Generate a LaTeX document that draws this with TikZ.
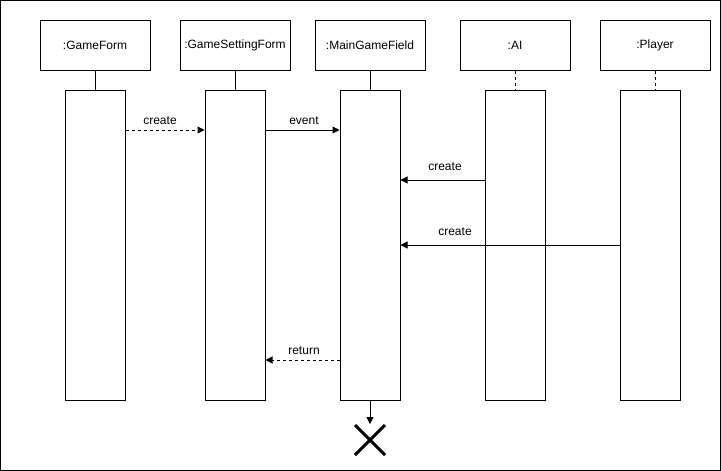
\documentclass[tikz,border=0pt]{standalone}
\usepackage{fontspec}
\setmainfont{Liberation Sans}
\usetikzlibrary{arrows.meta}
\begin{document}
\begin{tikzpicture}[x=1pt,y=-1pt,line width=1pt,
  head/.style={draw,minimum width=110pt,minimum height=50pt,inner sep=0pt,font=\fontsize{12}{14}\selectfont},
  act/.style={draw,fill=white,minimum width=60pt,minimum height=310pt,inner sep=0pt,anchor=north},
  msg/.style={-{Triangle[length=7pt,width=7pt]}},
  lbl/.style={font=\fontsize{12}{14}\selectfont,inner sep=0pt}]
\useasboundingbox (0,0) rectangle (721,471);
\draw (0.5,0.5) rectangle (720.5,470.5);
% headers
\node[head] (gf) at (95,45) {:GameForm};
\node[head] (gs) at (235,45) {:GameSettingForm};
\node[head] (mg) at (370,45) {:MainGameField};
\node[head] (ai) at (515,45) {:AI};
\node[head] (pl) at (655,45) {:Player};
% activations
\node[act] (gfA) at (95,90) {};
\node[act] (gsA) at (235,90) {};
\node[act] (mgA) at (370,90) {};
\node[act] (aiA) at (515,90) {};
\node[act] (plA) at (650,90) {};
% lifelines
\draw (gf.south) -- (gfA.north);
\draw (gs.south) -- (gsA.north);
\draw (mg.south) -- (mgA.north);
\draw[dash pattern=on 3pt off 3pt] (ai.south) -- (aiA.north);
\draw[dash pattern=on 3pt off 3pt] (pl.south) -- (pl.south |- plA.north);
% message rows
\coordinate (r1) at (0,130);
\coordinate (r2) at (0,180);
\coordinate (r3) at (0,245);
\coordinate (r4) at (0,360);
\draw[msg,dash pattern=on 3pt off 3pt] (gfA.east |- r1) -- (gsA.west |- r1);
\node[lbl] (l1) at (160,121) {create};
\draw[msg] (gsA.east |- r1) -- (mgA.west |- r1);
\node[lbl] (l2) at (304,121) {event};
\draw[msg] (aiA.west |- r2) -- (mgA.east |- r2);
\node[lbl] (l3) at (445,167) {create};
\draw[msg] (plA.west |- r3) -- (mgA.east |- r3);
\node[lbl] (l4) at (455,232) {create};
\draw[msg,dash pattern=on 3pt off 3pt] (mgA.west |- r4) -- (gsA.east |- r4);
\node[lbl] (l5) at (304,351) {return};
% destroy
\coordinate (xend) at (370,424);
\draw[msg] (mgA.south) -- (xend);
\draw[line width=3pt] (355,425) -- (385,455) (385,425) -- (355,455);
\end{tikzpicture}
\end{document}
